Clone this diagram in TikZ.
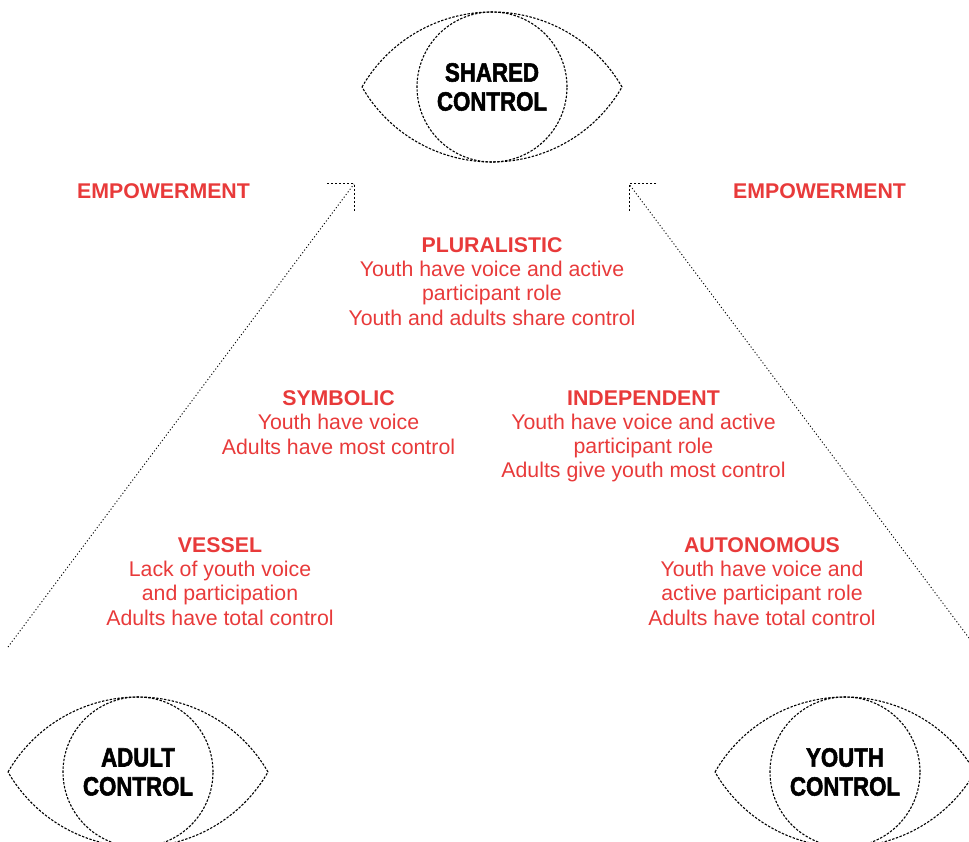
\documentclass[tikz,border=0pt]{standalone}
\usepackage{fontspec}
\setmainfont{Liberation Sans}
\newfontfamily\eyefont[FakeStretch=0.84,FakeBold=2]{Liberation Sans Bold}
\definecolor{redtxt}{RGB}{232,58,58}
\begin{document}
\begin{tikzpicture}[x=1pt,y=-1pt,
  eyeline/.style={line width=1.1pt, dash pattern=on 2.4pt off 1.5pt},
  pupil/.style={circle, draw, eyeline, minimum size=150pt, inner sep=0pt,
    font=\eyefont\fontsize{26.5}{29}\selectfont, align=center},
  lvl/.style={text=redtxt, align=center, inner sep=0pt,
    font=\fontsize{21.3}{24.2}\selectfont},
  emp/.style={text=redtxt, inner sep=0pt,
    font=\bfseries\fontsize{21.3}{24.2}\selectfont},
  diag/.style={line width=0.9pt, dash pattern=on 1.1pt off 2.2pt},
  corner/.style={line width=1pt, dash pattern=on 2.4pt off 1.6pt},
  pics/eyelids/.style={code={
    \draw[eyeline] (-130,0) .. controls (-103.2,-46.5) and (-53.7,-75) .. (0,-75)
      .. controls (53.7,-75) and (103.2,-46.5) .. (130,0)
      .. controls (103.2,46.5) and (53.7,75) .. (0,75)
      .. controls (-53.7,75) and (-103.2,46.5) .. (-130,0) -- cycle;
  }}
]
\useasboundingbox (0,0) rectangle (969,842);

% eyes
\node[pupil] (shared) at (492,87) {SHARED\\CONTROL};
\pic at (shared.center) {eyelids};
\node[pupil] (adult) at (138,772) {ADULT\\CONTROL};
\pic at (adult.center) {eyelids};
\node[pupil] (youth) at (845,772) {YOUTH\\CONTROL};
\pic at (youth.center) {eyelids};

% arrows
\coordinate (lstart) at (8,647);
\coordinate (ltip) at (354,184);
\draw[diag] (lstart) -- (ltip);
\draw[corner] ([xshift=-27pt]ltip) -- (ltip) -- ([yshift=-27pt]ltip);
\coordinate (rstart) at (969,638);
\coordinate (rtip) at (629,184);
\draw[diag] (rstart) -- (rtip);
\draw[corner] ([xshift=27pt]rtip) -- (rtip) -- ([yshift=-27pt]rtip);

% labels
\node[emp] (empl) at (163.5,191) {EMPOWERMENT};
\node[emp] (empr) at (819.5,191) {EMPOWERMENT};

\node[lvl] (plural) at (492,281.5) {\textbf{PLURALISTIC}\\Youth have voice and active\\participant role\\Youth and adults share control};
\node[lvl] (symb) at (338.5,422.5) {\textbf{SYMBOLIC}\\Youth have voice\\Adults have most control};
\node[lvl] (indep) at (643.5,436.5) {\textbf{INDEPENDENT}\\Youth have voice and active\\participant role\\Adults give youth most control};
\node[lvl] (vessel) at (220,581.5) {\textbf{VESSEL}\\Lack of youth voice\\and participation\\Adults have total control};
\node[lvl] (auton) at (762,581.5) {\textbf{AUTONOMOUS}\\Youth have voice and\\active participant role\\Adults have total control};
\end{tikzpicture}
\end{document}
